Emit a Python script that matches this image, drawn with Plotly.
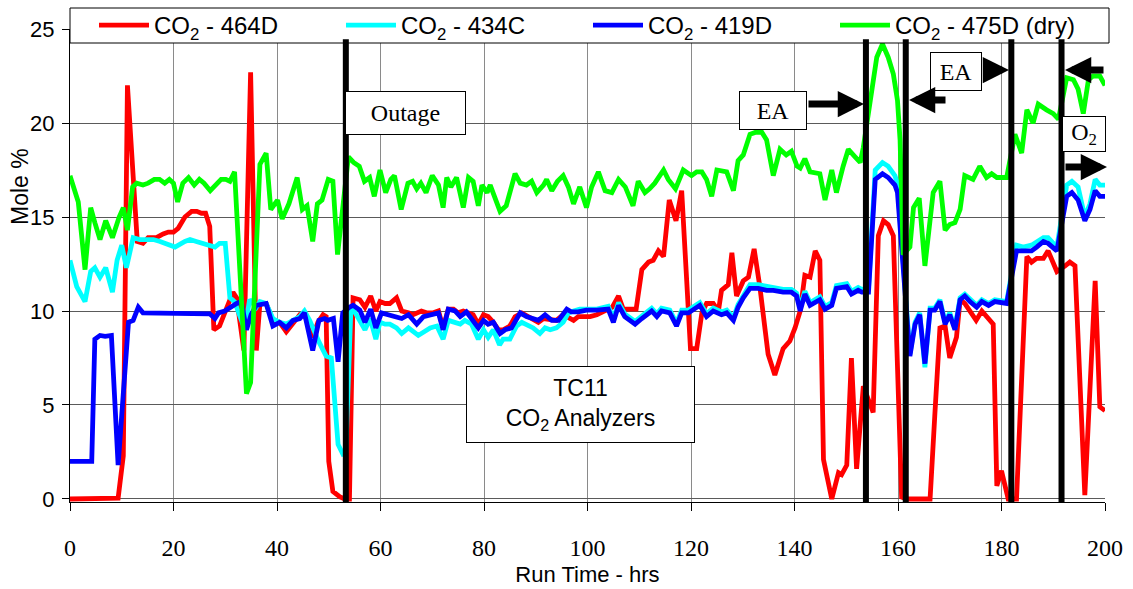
import plotly.graph_objects as go

# ---- analyzer readings: run time (hrs) and CO2 mole % ----
hours_464D = [0, 3, 7.1, 9.3, 10.3, 11.1, 13.0, 14.1, 15.1, 16.7,
              18.0, 19.0, 20.0, 20.9, 22.2, 23.5, 24.5, 25.4, 26.2, 27.0,
              27.8, 28.9, 29.9, 31.5, 32.2, 33.6, 34.9, 36.0, 36.7, 37.9,
              39.2, 40.5, 41.8, 43.1, 44.4, 45.5, 46.9, 47.9, 48.9, 49.5,
              50.0, 50.8, 52.1, 53.1, 54.0, 54.7, 56.0, 57.0, 58.1, 59.1,
              59.9, 60.9, 61.8, 63.1, 64.1, 65.4, 66.3, 67.9, 68.9, 70.2,
              71.2, 72.1, 73.1, 74.1, 75.0, 76.0, 77.9, 78.9, 79.9, 80.8,
              81.8, 82.8, 83.7, 85.0, 86.0, 87.3, 89.5, 90.5, 91.5, 94.0,
              95.3, 97.3, 98.2, 99.2, 100.5, 101.8, 103.7, 104.8, 106.0, 106.9,
              108.5, 109.4, 110.5, 111.8, 112.7, 113.7, 114.7, 115.8, 117.1, 118.2,
              119.9, 121.1, 122.1, 123.0, 124.3, 125.3, 125.9, 127.2, 127.9, 128.8,
              130.1, 131.1, 132.2, 133.3, 134.9, 136.2, 137.8, 139.1, 140.1, 141.1,
              142.0, 143.0, 144.0, 144.9, 145.6, 147.2, 148.5, 149.1, 150.1, 151.0,
              152.0, 153.3, 155.2, 156.2, 157.2, 158.1, 159.1, 160.7, 161.7, 166.2,
              167.1, 168.1, 169.1, 170.0, 171.3, 172.0, 172.9, 173.9, 175.1, 176.2,
              177.1, 178.4, 179.1, 180.0, 181.3, 182.9, 184.9, 185.8, 186.8, 188.1,
              189.0, 190.7, 192.3, 193.2, 194.2, 196.1, 198.1, 199.0, 200.0]
co2_464D = [0, 0, 0, 0.05, 2.3, 22.0, 13.7, 13.6, 13.9, 13.9,
            14.1, 14.2, 14.2, 14.4, 15.0, 15.3, 15.3, 15.2, 15.2, 14.5,
            9.0, 9.2, 9.9, 11.0, 10.7, 7.9, 22.7, 7.9, 10.4, 10.4,
            9.5, 9.4, 8.9, 9.4, 9.8, 9.7, 8.6, 9.4, 9.8, 9.7,
            2.0, 0.4, 0.12, 0, 0, 10.7, 10.6, 10.2, 10.8, 10.0,
            10.5, 10.4, 10.4, 10.7, 10.0, 9.9, 9.8, 10.0, 9.9, 9.9,
            10.0, 9.1, 10.1, 10.1, 9.9, 10.0, 9.8, 9.3, 9.8, 9.7,
            9.4, 9.0, 9.0, 9.2, 9.7, 9.9, 9.6, 9.4, 9.6, 9.5,
            9.8, 9.5, 9.7, 9.7, 9.7, 9.8, 10.1, 10.2, 10.8, 10.1,
            10.1, 10.1, 12.2, 12.6, 12.7, 13.2, 12.9, 15.9, 14.8, 16.4,
            8.0, 8.0, 9.9, 10.4, 10.4, 10.0, 11.1, 11.4, 13.1, 10.8,
            11.6, 11.8, 13.3, 11.3, 7.7, 6.6, 8.0, 8.4, 9.1, 10.0,
            11.9, 11.8, 13.2, 12.7, 2.1, 0.0, 1.4, 1.3, 1.8, 7.5,
            1.6, 6.0, 4.6, 14.0, 14.8, 14.6, 14.0, 0.1, 0, 0,
            4.4, 9.1, 9.2, 7.5, 8.6, 10.6, 10.4, 10.0, 9.5, 10.0,
            9.7, 9.3, 0.7, 1.5, 0, 0, 12.9, 12.6, 12.8, 12.8,
            13.2, 12.1, 12.4, 12.6, 12.4, 0.2, 11.6, 4.9, 4.7]

hours_434C = [0, 1.3, 2.9, 4.0, 4.8, 5.8, 6.9, 8.2, 9.1, 10.0,
              10.9, 12.2, 13.5, 14.8, 16.1, 17.4, 18.3, 20.3, 22.2, 23.2,
              24.4, 25.7, 28.0, 28.9, 30.0, 30.9, 31.8, 33.8, 34.7, 36.0,
              36.7, 37.9, 39.2, 40.5, 41.8, 43.1, 44.4, 45.3, 46.3, 48.2,
              49.5, 50.5, 51.8, 52.7, 53.3, 54.3, 56.0, 57.0, 58.0, 59.1,
              59.9, 60.9, 61.8, 63.1, 64.1, 65.4, 67.3, 68.3, 69.6, 70.9,
              72.1, 73.1, 74.4, 75.4, 76.3, 77.6, 78.9, 79.9, 80.8, 81.8,
              83.0, 83.7, 85.0, 86.3, 87.3, 88.2, 89.5, 90.8, 91.8, 92.8,
              94.0, 95.3, 96.3, 97.3, 98.5, 99.8, 101.8, 104.0, 105.0, 106.0,
              107.2, 109.2, 110.5, 112.4, 113.4, 114.3, 115.9, 117.2, 118.2, 119.5,
              121.7, 123.0, 124.3, 125.9, 126.9, 128.2, 129.1, 130.1, 131.4, 133.0,
              134.6, 135.9, 137.8, 139.4, 140.4, 141.1, 142.0, 143.0, 144.9, 145.9,
              147.2, 148.1, 150.1, 151.0, 152.3, 153.0, 154.3, 155.6, 157.0, 158.1,
              159.4, 159.9, 162.3, 163.3, 164.2, 165.2, 166.2, 167.1, 168.1, 169.1,
              170.0, 171.0, 172.0, 172.9, 173.9, 175.2, 176.2, 177.5, 178.7, 181.0,
              182.9, 184.2, 185.8, 186.8, 188.1, 189.0, 190.7, 192.6, 193.6, 194.8,
              196.1, 197.1, 198.1, 199.0, 200.0]
co2_434C = [12.7, 11.3, 10.5, 12.1, 12.3, 11.8, 12.3, 11.0, 12.7, 13.5,
            12.3, 13.9, 13.8, 13.8, 13.8, 13.7, 13.6, 13.4, 13.7, 13.8,
            13.7, 13.6, 13.4, 13.6, 13.6, 10.7, 10.5, 9.0, 10.6, 10.2,
            10.5, 10.4, 9.6, 9.4, 9.3, 9.5, 9.7, 10.0, 9.5, 8.3,
            7.6, 7.5, 2.9, 2.4, 2.5, 10.3, 9.5, 9.0, 9.6, 8.5,
            9.4, 9.3, 9.3, 9.1, 8.8, 9.1, 8.7, 8.9, 9.1, 9.2,
            8.5, 9.5, 9.4, 9.3, 9.5, 9.3, 8.5, 9.0, 8.6, 9.0,
            8.2, 8.5, 8.5, 9.2, 9.4, 9.3, 9.1, 8.8, 9.1, 9.0,
            9.1, 9.4, 9.9, 10.0, 10.1, 10.1, 10.1, 10.25, 9.6, 10.45,
            9.85, 9.45, 9.75, 10.15, 9.85, 10.15, 10.05, 9.35, 10.05, 10.05,
            10.45, 9.85, 10.15, 9.95, 10.05, 9.65, 10.35, 10.85, 11.4, 11.4,
            11.3, 11.25, 11.15, 11.15, 10.95, 10.2, 11.05, 10.45, 10.75, 10.25,
            10.45, 11.35, 11.45, 11.05, 11.25, 11.15, 11.2, 17.5, 17.9, 17.7,
            17.2, 16.8, 7.7, 9.4, 9.9, 7.0, 10.15, 10.15, 10.6, 9.4,
            9.9, 9.1, 10.7, 10.9, 10.6, 10.3, 10.6, 10.4, 10.6, 10.5,
            13.5, 13.4, 13.5, 13.7, 13.9, 13.9, 13.4, 16.7, 16.9, 16.6,
            15.0, 15.7, 17.0, 16.7, 16.7]

hours_419D = [0, 4.2, 4.8, 5.8, 6.8, 8.0, 9.3, 11.3, 12.2, 13.2,
              14.1, 16.0, 18.0, 20.0, 22.0, 24.0, 25.7, 27.0, 28.0, 28.7,
              29.9, 30.9, 32.2, 33.1, 34.1, 35.0, 36.0, 37.9, 39.2, 40.5,
              41.8, 43.1, 44.4, 45.3, 46.9, 48.1, 49.2, 49.8, 50.9, 51.8,
              52.7, 54.0, 54.7, 56.0, 57.0, 58.1, 59.1, 60.2, 61.5, 62.8,
              64.1, 65.4, 67.0, 68.3, 69.6, 71.2, 72.1, 73.1, 74.4, 75.4,
              76.6, 77.6, 78.9, 79.9, 80.8, 81.8, 83.1, 84.1, 85.3, 87.0,
              88.2, 90.5, 91.8, 93.1, 94.4, 96.0, 96.9, 98.2, 99.8, 101.8,
              104.0, 105.0, 106.0, 107.2, 109.2, 110.5, 112.4, 113.4, 114.3, 115.9,
              117.2, 118.2, 119.5, 121.7, 123.0, 124.3, 125.9, 126.9, 128.2, 129.1,
              130.1, 131.4, 133.0, 134.6, 135.9, 137.8, 139.4, 140.4, 141.1, 142.0,
              143.0, 144.9, 145.9, 147.2, 148.1, 150.1, 151.0, 152.3, 153.0, 154.3,
              155.6, 157.0, 158.1, 159.4, 159.9, 162.3, 163.3, 164.2, 165.2, 166.2,
              167.1, 168.1, 169.1, 170.0, 171.0, 172.0, 172.9, 173.9, 175.2, 176.2,
              177.5, 178.7, 181.0, 182.9, 184.2, 185.8, 186.8, 188.1, 189.0, 190.7,
              192.6, 193.6, 194.8, 196.1, 197.1, 198.1, 199.0, 200.0]
co2_419D = [2.0, 2.0, 8.5, 8.7, 8.65, 8.7, 1.8, 9.4, 9.5, 10.2,
            9.9, 9.9, 9.9, 9.85, 9.9, 9.9, 9.9, 9.85, 9.6, 9.9,
            10.0, 10.2, 10.4, 10.5, 9.0, 9.8, 10.3, 10.4, 9.2, 9.4,
            9.1, 9.5, 9.6, 9.9, 7.9, 9.5, 9.6, 9.5, 9.6, 7.3,
            9.9, 10.2, 10.3, 10.05, 9.4, 10.1, 9.1, 9.9, 9.8, 9.7,
            9.6, 9.8, 9.3, 9.7, 9.8, 9.9, 9.0, 10.1, 10.0, 9.7,
            9.95, 9.6, 9.1, 9.5, 9.3, 9.4, 8.8, 9.0, 9.1, 9.9,
            9.7, 9.5, 9.8, 9.5, 9.5, 10.1, 9.95, 9.95, 10.05, 10.05,
            10.1, 9.4, 10.3, 9.7, 9.3, 9.6, 10.0, 9.7, 10.0, 9.9,
            9.2, 9.9, 9.9, 10.3, 9.7, 10.0, 9.8, 9.9, 9.5, 10.2,
            10.7, 11.2, 11.2, 11.1, 11.1, 11.0, 11.0, 10.8, 10.0, 10.9,
            10.3, 10.6, 10.1, 10.3, 11.2, 11.3, 10.9, 11.1, 11.0, 11.0,
            17.0, 17.3, 17.1, 16.7, 16.3, 7.6, 9.3, 9.8, 7.2, 10.05,
            10.05, 10.5, 9.3, 9.8, 9.0, 10.6, 10.8, 10.5, 10.2, 10.5,
            10.3, 10.5, 10.4, 13.2, 13.2, 13.2, 13.4, 13.7, 13.6, 13.2,
            16.1, 16.3, 15.9, 14.8, 15.4, 16.4, 16.1, 16.1]

hours_475D = [0, 1.6, 2.9, 4.0, 4.8, 5.8, 6.9, 8.2, 9.5, 10.3,
              11.1, 12.1, 12.9, 14.1, 15.1, 16.3, 17.3, 18.3, 19.2, 20.0,
              20.8, 21.8, 22.9, 24.0, 25.0, 25.9, 27.1, 28.1, 29.2, 30.1,
              30.9, 31.8, 34.1, 34.9, 36.7, 37.9, 38.8, 40.1, 41.0, 42.3,
              43.9, 44.9, 45.8, 46.9, 47.8, 48.7, 49.9, 50.8, 51.7, 53.8,
              54.8, 55.9, 56.9, 57.9, 58.8, 59.9, 61.0, 62.0, 62.7, 64.0,
              65.3, 66.2, 67.0, 67.8, 68.8, 70.0, 71.2, 72.1, 72.8, 73.6,
              74.7, 76.0, 77.0, 77.9, 78.9, 79.6, 80.6, 81.2, 82.1, 83.1,
              84.3, 86.0, 87.0, 88.2, 89.2, 90.2, 91.5, 92.1, 93.1, 94.2,
              95.3, 96.3, 97.3, 98.5, 99.8, 100.8, 102.1, 103.4, 104.7, 106.0,
              107.3, 108.8, 109.8, 111.1, 112.0, 113.0, 114.7, 115.6, 117.0, 118.5,
              120.1, 121.1, 122.1, 123.0, 124.0, 125.0, 126.9, 128.2, 129.1, 130.1,
              131.4, 132.4, 133.7, 134.6, 135.9, 137.2, 138.4, 139.4, 140.5, 141.1,
              142.0, 143.0, 144.9, 145.9, 147.2, 148.1, 149.4, 150.4, 151.7, 152.7,
              153.3, 154.6, 155.9, 157.0, 158.1, 159.1, 159.9, 160.4, 161.0, 162.3,
              163.0, 164.1, 165.2, 166.8, 168.1, 169.1, 170.0, 171.0, 172.0, 172.9,
              174.5, 175.8, 177.1, 178.1, 179.1, 181.0, 182.6, 183.9, 184.9, 186.1,
              187.1, 188.7, 190.0, 191.0, 192.6, 193.9, 194.8, 195.8, 196.8, 197.7,
              199.0, 200.0]
co2_475D = [17.2, 15.8, 12.2, 15.5, 14.7, 13.8, 14.8, 13.9, 15.0, 15.5,
            14.3, 16.6, 16.8, 16.7, 16.8, 17.0, 17.0, 16.8, 17.0, 16.8,
            15.8, 16.8, 17.1, 16.7, 17.0, 16.8, 16.4, 16.7, 17.0, 17.0,
            16.9, 17.4, 5.6, 6.2, 17.8, 18.4, 15.4, 15.9, 14.9, 15.7,
            17.1, 15.4, 15.6, 13.7, 15.7, 15.9, 17.0, 16.9, 13.0, 18.2,
            17.9, 17.7, 16.9, 17.1, 16.1, 17.5, 16.3, 17.0, 17.2, 15.4,
            16.8, 16.9, 16.5, 16.8, 16.3, 17.2, 16.7, 15.5, 17.1, 16.6,
            17.1, 15.5, 17.1, 16.9, 15.6, 16.7, 16.3, 16.7, 16.1, 15.3,
            15.6, 17.3, 16.8, 16.7, 16.9, 16.3, 16.7, 17.0, 16.4, 16.9,
            17.2, 16.6, 15.7, 16.6, 15.5, 16.6, 17.4, 16.4, 16.3, 17.0,
            16.6, 15.6, 16.9, 16.3, 16.5, 16.8, 17.5, 17.0, 16.5, 17.5,
            17.2, 17.4, 17.4, 17.0, 16.1, 17.5, 17.4, 16.4, 18.0, 18.3,
            19.4, 19.5, 19.5, 19.1, 17.2, 18.6, 18.3, 18.5, 17.7, 17.6,
            18.1, 17.4, 17.3, 15.9, 17.5, 16.3, 17.7, 18.6, 18.2, 17.9,
            18.7, 21.2, 23.5, 24.2, 23.5, 22.6, 21.2, 19.1, 13.0, 13.4,
            15.5, 16.0, 12.4, 16.3, 16.9, 14.3, 14.6, 14.7, 15.4, 17.2,
            17.0, 17.7, 17.1, 17.3, 17.1, 17.1, 19.4, 18.4, 20.7, 20.0,
            21.0, 20.7, 20.5, 20.2, 22.4, 22.3, 21.8, 20.5, 22.3, 22.5,
            22.5, 22.0]

# run-time events (outage / EA / O2 switches), hrs
event_hours = [53.3, 153.8, 161.5, 181.9, 191.6]

x_ticks = [0, 20, 40, 60, 80, 100, 120, 140, 160, 180, 200]
y_ticks = [0, 5, 10, 15, 20, 25]

series = [
    ("CO<sub>2</sub> - 464D", hours_464D, co2_464D, "#FF0000"),
    ("CO<sub>2</sub> - 434C", hours_434C, co2_434C, "#00FFFF"),
    ("CO<sub>2</sub> - 419D", hours_419D, co2_419D, "#0000FF"),
    ("CO<sub>2</sub> - 475D (dry)", hours_475D, co2_475D, "#00FF00"),
]

# ---- page geometry (pixels) ----
W, H = 1133, 589
L, R, T, B = 70, 1105, 29, 502


def px(xp):
    return (xp - L) / (R - L)


def py(yp):
    return (B - yp) / (B - T)


SERIF = "Liberation Serif, Times New Roman, serif"
SANS = "Liberation Sans, Arial, sans-serif"

fig = go.Figure()
for name, hrs, vals, color in series:
    fig.add_trace(go.Scatter(x=hrs, y=vals, mode="lines", name=name,
                             line=dict(color=color, width=4.8)))

shapes = [
    # legend frame
    dict(type="rect", xref="paper", yref="paper", x0=px(70), x1=px(1109),
         y0=py(43), y1=py(8), line=dict(color="black", width=1),
         fillcolor="white", layer="above"),
]
for h in event_hours:
    shapes.append(dict(type="line", xref="x", yref="y", x0=h, x1=h,
                       y0=-0.3, y1=24.45, line=dict(color="black", width=6),
                       layer="above"))

annotations = []


def box(text, cx, cy, w, h, font):
    annotations.append(dict(text=text, xref="paper", yref="paper",
                            x=px(cx), y=py(cy), xanchor="center",
                            yanchor="middle", showarrow=False,
                            width=w - 2, height=h - 2, borderpad=0,
                            bordercolor="black", borderwidth=1,
                            bgcolor="white", font=font, align="center"))


def arrow(tip_x, tip_y, tail_x):
    annotations.append(dict(text="", xref="paper", yref="paper",
                            x=px(tip_x), y=py(tip_y), ax=tail_x - tip_x, ay=0,
                            showarrow=True, arrowhead=2, arrowsize=0.75,
                            arrowwidth=7, arrowcolor="black", standoff=0))


box("Outage", 405.5, 113, 121, 44, dict(family=SERIF, size=24, color="black"))
box("EA", 773, 110.5, 68, 39, dict(family=SERIF, size=24, color="black"))
box("EA", 956, 71.5, 52, 39, dict(family=SERIF, size=24, color="black"))
box("O<sub>2</sub>", 1084, 134, 44, 36, dict(family=SERIF, size=24, color="black"))
box("TC11<br>CO<sub>2</sub> Analyzers", 580.5, 404.5, 229, 77,
    dict(family=SANS, size=23, color="black"))

arrow(864, 104, 807)
arrow(909, 100, 947)
arrow(1009, 70, 982)
arrow(1065, 70, 1105)
arrow(1107, 167, 1064)

annotations.append(dict(text="Mole %", xref="paper", yref="paper",
                        x=px(20), y=py(187), textangle=-90, showarrow=False,
                        xanchor="center", yanchor="middle",
                        font=dict(family=SANS, size=23, color="black")))

fig.update_layout(
    width=W, height=H,
    margin=dict(l=L, r=W - R, t=T, b=H - B, pad=0, autoexpand=False),
    paper_bgcolor="white", plot_bgcolor="white",
    showlegend=True,
    legend=dict(orientation="h", x=px(94), y=py(25.5), xanchor="left",
                yanchor="middle", bgcolor="rgba(0,0,0,0)", borderwidth=0,
                font=dict(family=SANS, size=24, color="black"),
                entrywidth=182, entrywidthmode="pixels", itemwidth=50),
    shapes=shapes,
    annotations=annotations,
    xaxis=dict(range=[0, 200], tickvals=x_ticks, ticks="outside", ticklen=8,
               tickcolor="black", showline=True, linecolor="black",
               linewidth=1, showgrid=True, gridcolor="#8a8a8a", gridwidth=1,
               zeroline=False, tickfont=dict(family=SERIF, size=24, color="black"),
               ticklabelstandoff=16,
               title=dict(text="Run Time - hrs", standoff=6,
                          font=dict(family=SANS, size=22, color="black"))),
    yaxis=dict(range=[-0.16, 25], tickvals=y_ticks, ticks="outside", ticklen=7,
               tickcolor="black", showline=True, linecolor="black",
               linewidth=1, showgrid=True, gridcolor="#5a5a5a", gridwidth=1,
               zeroline=False, tickfont=dict(family=SANS, size=22, color="black"),
               ticklabelstandoff=3),
)

fig.write_html("out.html")
